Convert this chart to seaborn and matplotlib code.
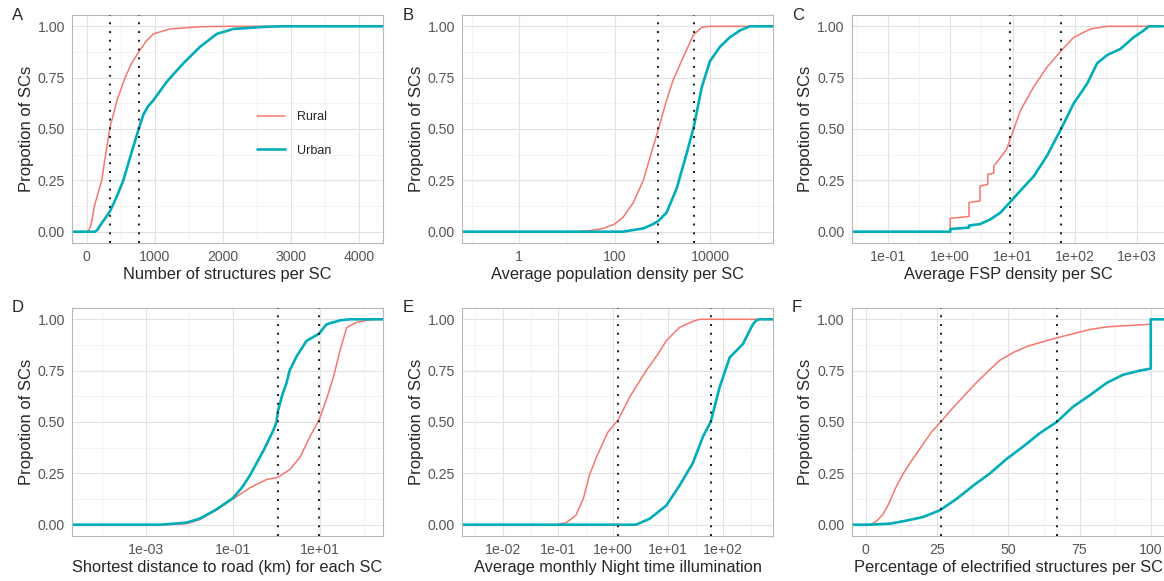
import matplotlib
matplotlib.use("Agg")
import matplotlib.pyplot as plt
import matplotlib.ticker as mticker
import seaborn as sns

sns.set_style("white")
plt.rcParams["font.family"] = ["Liberation Sans", "DejaVu Sans"]

RURAL = "#F8766D"
URBAN = "#00ADB9"
Y_LABEL = "Propotion of SCs"

# ---- A: number of structures per SC
a_rural_x = [-216, 0, 25, 50, 80, 113, 160, 220, 280, 343, 450, 563, 660, 773, 880, 979, 1224, 1664, 2150, 4351]
a_rural_y = [0, 0, 0.005, 0.02, 0.06, 0.125, 0.18, 0.25, 0.38, 0.51, 0.645, 0.75, 0.82, 0.88, 0.93, 0.963, 0.987, 0.998, 1.0, 1.0]
a_urban_x = [-216, 0, 122, 160, 196, 260, 343, 440, 538, 685, 773, 832, 900, 979, 1175, 1420, 1664, 1909, 2154, 2643, 2888, 4351]
a_urban_y = [0, 0, 0, 0.01, 0.03, 0.06, 0.10, 0.17, 0.25, 0.415, 0.51, 0.57, 0.61, 0.64, 0.73, 0.82, 0.90, 0.963, 0.987, 0.998, 1.0, 1.0]
a_medians = [342, 773]

# ---- B: average population density per SC
b_rural_x = [0.063, 16, 30, 58, 100, 150, 245, 400, 645, 830, 1230, 1700, 2750, 4570, 6760, 10000, 210000]
b_rural_y = [0, 0, 0.005, 0.016, 0.037, 0.07, 0.14, 0.25, 0.415, 0.5, 0.64, 0.74, 0.85, 0.96, 0.995, 1.0, 1.0]
b_urban_x = [0.063, 150, 400, 645, 830, 1230, 2000, 3240, 4570, 6760, 10000, 16200, 26300, 42700, 69000, 210000]
b_urban_y = [0, 0, 0.016, 0.037, 0.053, 0.093, 0.21, 0.38, 0.51, 0.705, 0.83, 0.90, 0.947, 0.98, 1.0, 1.0]
b_medians = [830, 4570]

# ---- C: average FSP density per SC
c_rural_x = [0.026, 1, 1, 2, 2, 3, 3, 4, 4, 5, 5, 6, 8, 10.5, 13.4, 21.8, 35.5, 60, 95, 178, 330, 2600]
c_rural_y = [0, 0, 0.065, 0.074, 0.142, 0.15, 0.222, 0.23, 0.279, 0.285, 0.32, 0.35, 0.40, 0.50, 0.59, 0.705, 0.80, 0.88, 0.945, 0.987, 1.0, 1.0]
c_urban_x = [0.026, 1, 1, 2, 2, 3, 4.4, 6.4, 9.2, 13.4, 21.9, 35.8, 60, 96, 157, 228, 330, 540, 883, 1280, 1540, 2600]
c_urban_y = [0, 0, 0.013, 0.02, 0.03, 0.037, 0.06, 0.093, 0.145, 0.20, 0.27, 0.37, 0.50, 0.625, 0.72, 0.82, 0.86, 0.89, 0.947, 0.98, 1.0, 1.0]
c_medians = [9.0, 60]

# ---- D: shortest distance to road (km)
d_rural_x = [0.00002, 0.003, 0.0085, 0.0174, 0.042, 0.1, 0.245, 0.59, 1.07, 2.05, 3.5, 5.9, 9.5, 14, 20.4, 29, 41, 69, 117, 200, 280]
d_rural_y = [0, 0, 0.005, 0.025, 0.072, 0.125, 0.18, 0.22, 0.23, 0.27, 0.33, 0.43, 0.51, 0.61, 0.72, 0.85, 0.96, 0.985, 0.995, 1.0, 1.0]
d_urban_x = [0.00002, 0.0021, 0.0085, 0.0174, 0.042, 0.1, 0.16, 0.245, 0.5, 0.85, 1.0, 1.07, 1.35, 1.7, 2.0, 2.9, 4.9, 9.5, 14, 20, 29, 49, 280]
d_urban_y = [0, 0, 0.01, 0.03, 0.075, 0.13, 0.18, 0.24, 0.36, 0.46, 0.50, 0.55, 0.63, 0.69, 0.75, 0.82, 0.895, 0.93, 0.975, 0.985, 0.995, 1.0, 1.0]
d_medians = [1.07, 9.5]

# ---- E: average monthly night time illumination
e_rural_x = [0.0018, 0.092, 0.14, 0.21, 0.29, 0.37, 0.5, 0.8, 1.23, 1.6, 1.98, 3.98, 6.5, 9.2, 16, 28, 37, 800]
e_rural_y = [0, 0, 0.01, 0.045, 0.13, 0.24, 0.33, 0.45, 0.51, 0.57, 0.62, 0.75, 0.83, 0.895, 0.96, 0.99, 1.0, 1.0]
e_urban_x = [0.0018, 2.6, 4.6, 9.2, 16, 28, 43, 59, 86, 131, 173, 228, 300, 346, 398, 457, 800]
e_urban_y = [0, 0, 0.029, 0.093, 0.19, 0.30, 0.43, 0.50, 0.67, 0.815, 0.847, 0.88, 0.944, 0.976, 0.995, 1.0, 1.0]
e_medians = [1.23, 59]

# ---- F: percentage of electrified structures per SC
f_rural_x = [-5, 0, 2, 4, 6, 8, 10.5, 13.2, 16, 20, 23, 26.3, 30, 34, 38, 42.4, 47, 52, 57, 62, 67.2, 72.8, 78.6, 84.5, 90.3, 100, 100, 105]
f_rural_y = [0, 0, 0.003, 0.02, 0.05, 0.10, 0.18, 0.25, 0.31, 0.39, 0.45, 0.50, 0.56, 0.62, 0.68, 0.74, 0.80, 0.84, 0.87, 0.89, 0.91, 0.93, 0.95, 0.963, 0.968, 0.976, 1.0, 1.0]
f_urban_x = [-5, 1.5, 8.5, 14.3, 20, 26, 31.8, 37.7, 43.6, 49.4, 55.2, 61, 67, 72.8, 78.6, 84.5, 90.3, 96.1, 100, 100, 105]
f_urban_y = [0, 0, 0.005, 0.02, 0.037, 0.07, 0.125, 0.19, 0.25, 0.32, 0.38, 0.445, 0.50, 0.575, 0.63, 0.69, 0.73, 0.75, 0.76, 1.0, 1.0]
f_medians = [26.3, 67.2]

PANELS = [
    dict(letter="A", rx=a_rural_x, ry=a_rural_y, ux=a_urban_x, uy=a_urban_y, med=a_medians,
         xlabel="Number of structures per SC", log=False, xlim=(-216, 4351),
         major=[0, 1000, 2000, 3000, 4000], minor=[-500, 500, 1500, 2500, 3500],
         labels=["0", "1000", "2000", "3000", "4000"]),
    dict(letter="B", rx=b_rural_x, ry=b_rural_y, ux=b_urban_x, uy=b_urban_y, med=b_medians,
         xlabel="Average population density per SC", log=True, xlim=(0.063, 210000),
         major=[1, 100, 10000], minor=[0.1, 10, 1000, 100000],
         labels=["1", "100", "10000"]),
    dict(letter="C", rx=c_rural_x, ry=c_rural_y, ux=c_urban_x, uy=c_urban_y, med=c_medians,
         xlabel="Average FSP density per SC", log=True, xlim=(0.026, 2800),
         major=[0.1, 1, 10, 100, 1000], minor=[0.0316, 0.316, 3.16, 31.6, 316],
         labels=["1e-01", "1e+00", "1e+01", "1e+02", "1e+03"]),
    dict(letter="D", rx=d_rural_x, ry=d_rural_y, ux=d_urban_x, uy=d_urban_y, med=d_medians,
         xlabel="Shortest distance to road (km) for each SC", log=True, xlim=(0.00002, 280),
         major=[0.001, 0.1, 10], minor=[0.0001, 0.01, 1, 100],
         labels=["1e-03", "1e-01", "1e+01"]),
    dict(letter="E", rx=e_rural_x, ry=e_rural_y, ux=e_urban_x, uy=e_urban_y, med=e_medians,
         xlabel="Average monthly Night time illumination", log=True, xlim=(0.0018, 800),
         major=[0.01, 0.1, 1, 10, 100], minor=[0.00316, 0.0316, 0.316, 3.16, 31.6, 316],
         labels=["1e-02", "1e-01", "1e+00", "1e+01", "1e+02"]),
    dict(letter="F", rx=f_rural_x, ry=f_rural_y, ux=f_urban_x, uy=f_urban_y, med=f_medians,
         xlabel="Percentage of electrified structures per SC", log=False, xlim=(-5, 105),
         major=[0, 25, 50, 75, 100], minor=[12.5, 37.5, 62.5, 87.5],
         labels=["0", "25", "50", "75", "100"]),
]

W, H = 1164, 581
fig = plt.figure(figsize=(W / 100, H / 100), dpi=100)

# pixel boxes (left, top, width, height)
boxes = [(72, 15, 311, 228), (462, 15, 311, 228), (851.5, 15, 313.5, 228),
         (72, 308, 311, 228), (462, 308, 311, 228), (851.5, 308, 313.5, 228)]
letter_pos = [(12, 15), (403, 15), (792, 15), (12, 308), (403, 308), (792, 308)]


def draw_panel(ax, p, legend=False):
    sns.lineplot(x=p["rx"], y=p["ry"], color=RURAL, lw=1.1, estimator=None,
                 sort=False, ax=ax, label="Rural")
    sns.lineplot(x=p["ux"], y=p["uy"], color=URBAN, lw=1.9, estimator=None,
                 sort=False, ax=ax, label="Urban")
    for m in p["med"]:
        ax.axvline(m, color="#1a1a1a", lw=1.4, ls=(0, (1, 3.5)), zorder=5)
    if p["log"]:
        ax.set_xscale("log")
    ax.set_xlim(p["xlim"])
    ax.set_ylim(-0.055, 1.055)
    ax.xaxis.set_major_locator(mticker.FixedLocator(p["major"]))
    ax.xaxis.set_major_formatter(mticker.FixedFormatter(p["labels"]))
    ax.xaxis.set_minor_locator(mticker.FixedLocator(p["minor"]))
    ax.xaxis.set_minor_formatter(mticker.NullFormatter())
    ax.yaxis.set_major_locator(mticker.FixedLocator([0, 0.25, 0.5, 0.75, 1.0]))
    ax.yaxis.set_major_formatter(mticker.FuncFormatter(lambda v, _: f"{v:.2f}"))
    ax.yaxis.set_minor_locator(mticker.FixedLocator([0.125, 0.375, 0.625, 0.875]))
    ax.grid(which="major", color="#E2E2E2", lw=0.8)
    ax.grid(which="minor", color="#EFEFEF", lw=0.5)
    ax.set_axisbelow(True)
    for s in ax.spines.values():
        s.set_color("#B8B8B8")
        s.set_linewidth(0.8)
    ax.tick_params(which="major", length=3, width=0.8, color="#B8B8B8",
                   labelsize=10.2, labelcolor="#555555", pad=2)
    ax.tick_params(which="minor", length=0)
    ax.set_xlabel(p["xlabel"], fontsize=11.8, labelpad=2)
    ax.set_ylabel(Y_LABEL, fontsize=12, labelpad=3)
    if legend:
        ax.legend(loc="center left", bbox_to_anchor=(0.56, 0.478), frameon=False,
                  fontsize=9, handlelength=2.2, labelspacing=1.7, handletextpad=1.0)
    else:
        ax.get_legend().remove()


for i, p in enumerate(PANELS):
    l, t, w, h = boxes[i]
    ax = fig.add_axes([l / W, 1 - (t + h) / H, w / W, h / H])
    draw_panel(ax, p, legend=(i == 0))
    lx, ly = letter_pos[i]
    fig.text(lx / W, 1 - ly / H, p["letter"], fontsize=12, va="center", ha="left")

fig.savefig("out.png", dpi=100)
